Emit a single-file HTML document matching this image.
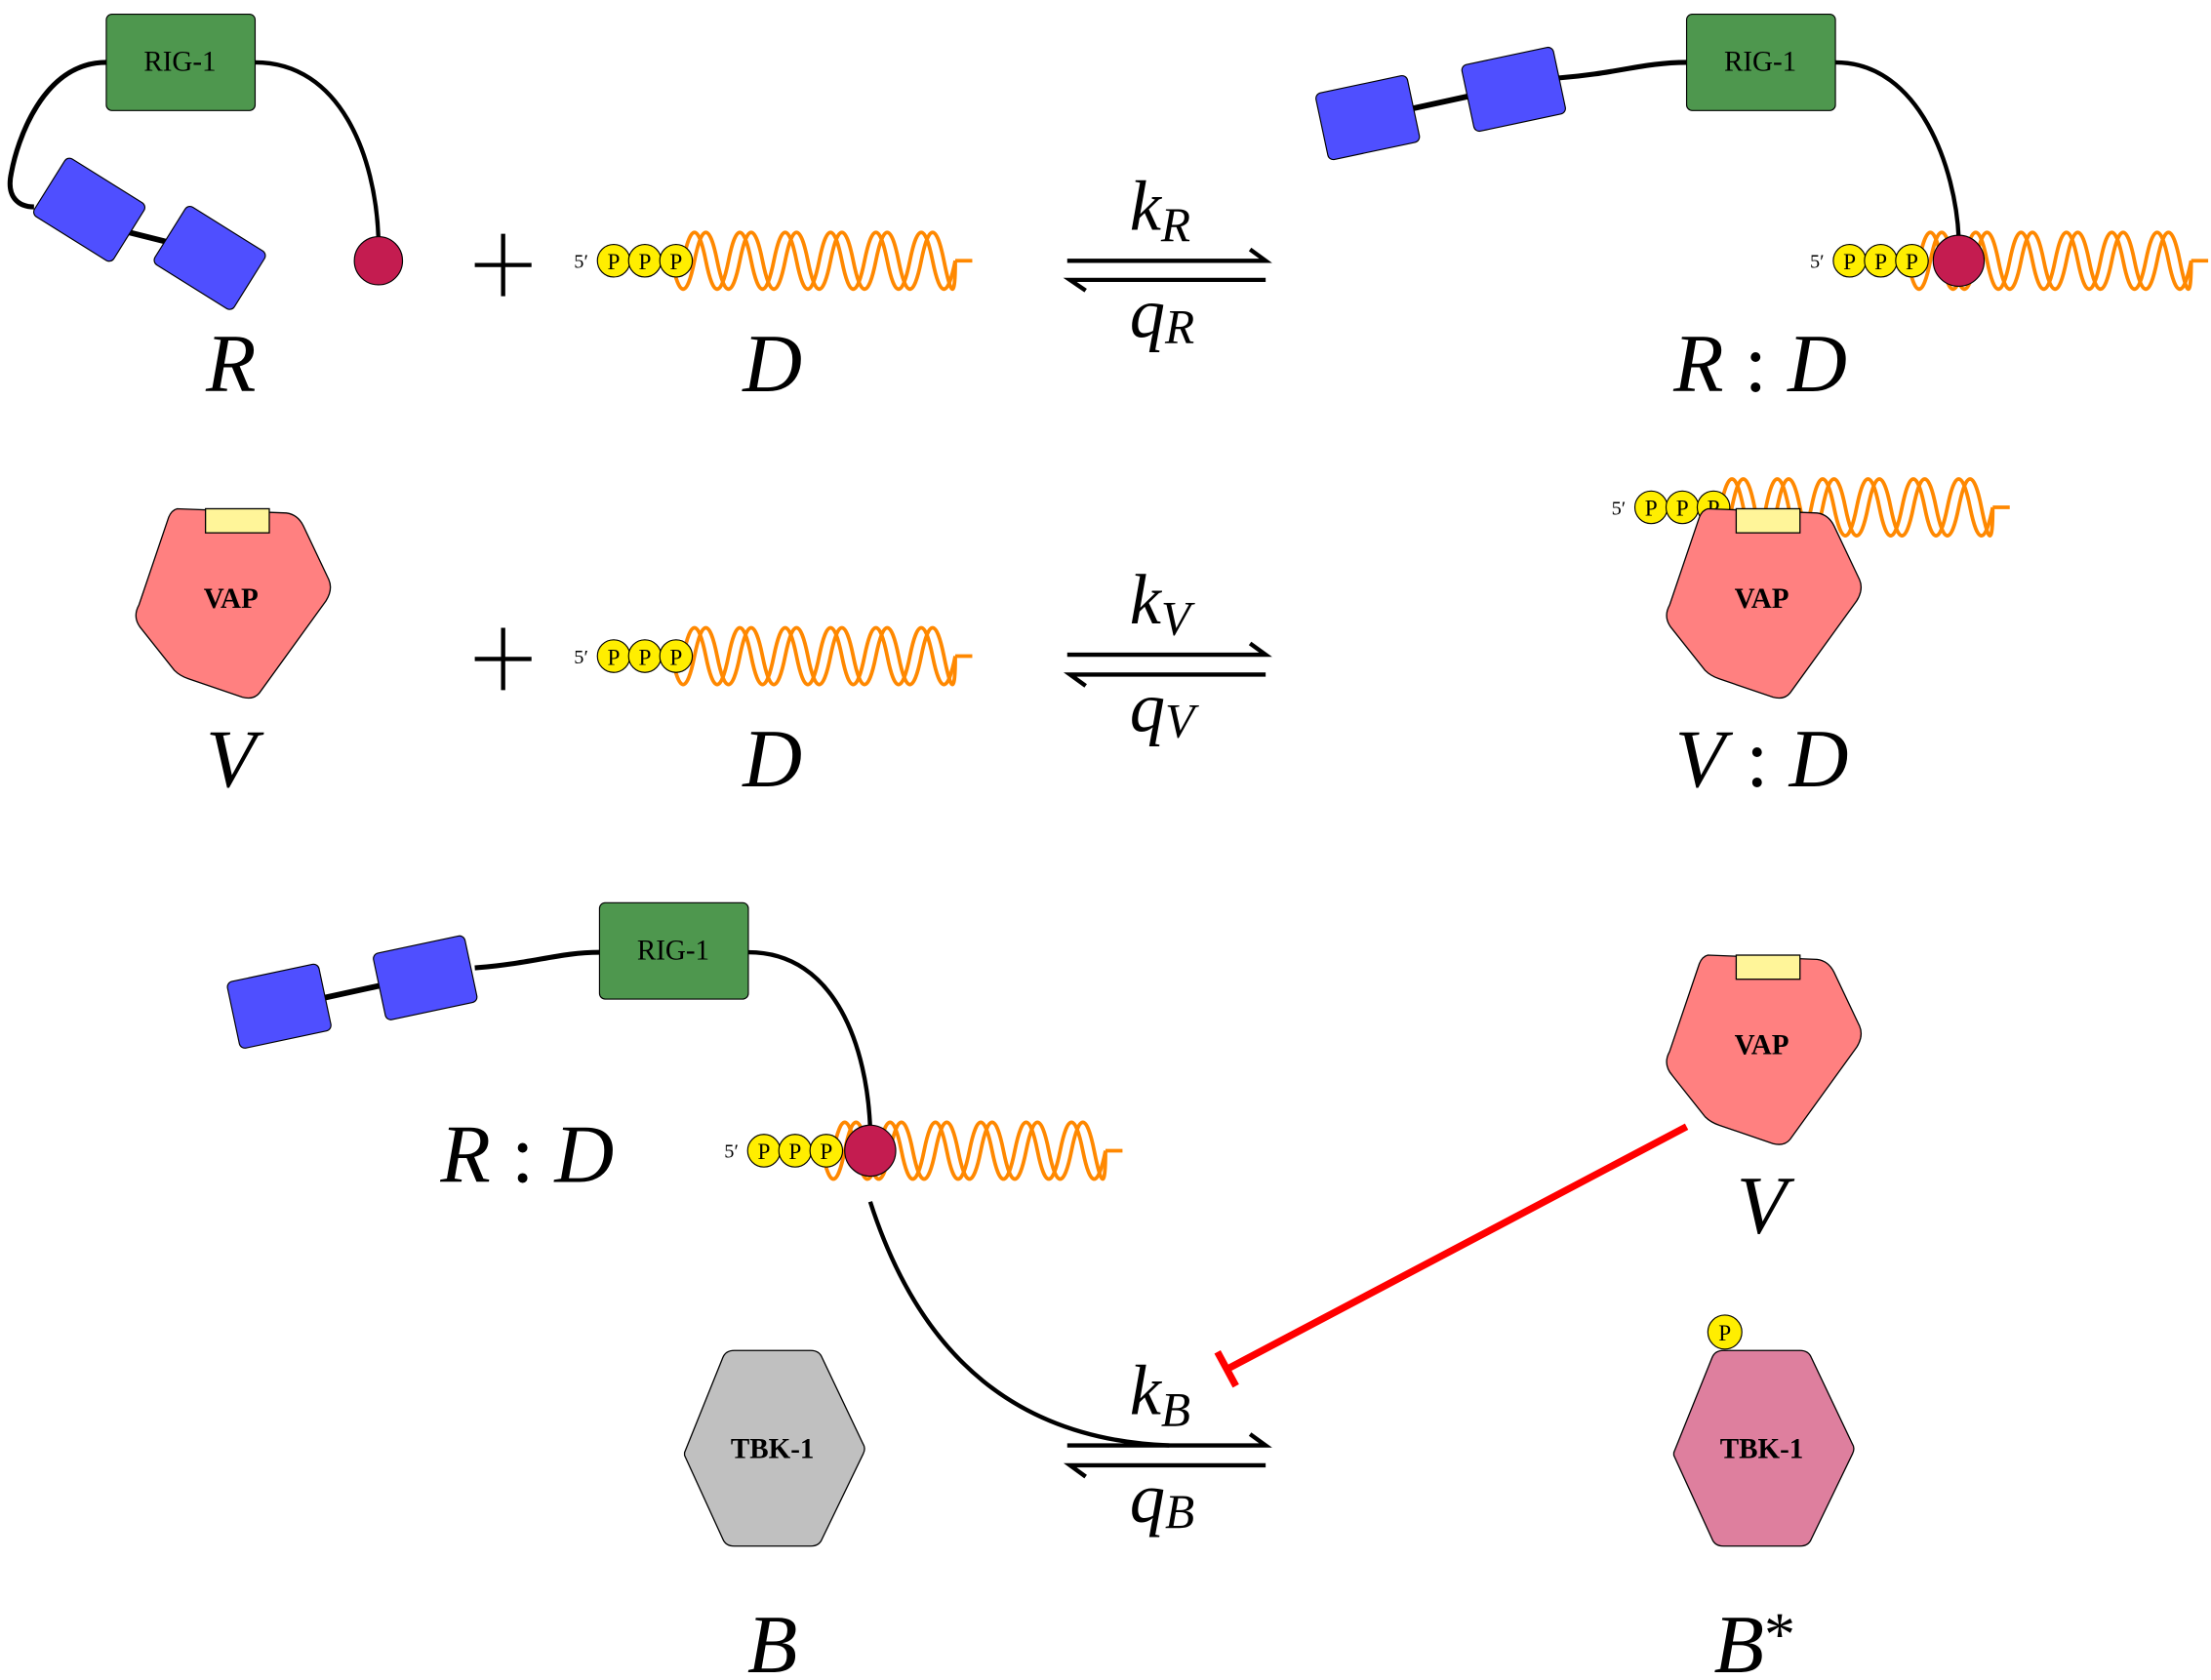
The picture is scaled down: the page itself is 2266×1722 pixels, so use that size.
<!DOCTYPE html>
<html><head><meta charset="utf-8"><style>
html,body{margin:0;padding:0;background:#fff;}
svg{display:block;}
text{font-family:"Liberation Serif",serif;}
</style></head><body>
<svg width="2266" height="1722" viewBox="0 0 1560 1185.5" preserveAspectRatio="none" xmlns="http://www.w3.org/2000/svg">
<defs>
<g id="dna">
  <path d="M49,0 q8,-40 16,0 t16,0 t16,0 t16,0 t16,0 t16,0 t16,0 t16,0 t16,0 t16,0 t16,0 t16,0" fill="none" stroke="#ff8800" stroke-width="2.6"/>
  <path d="M41,0 q8,40 16,0 t16,0 t16,0 t16,0 t16,0 t16,0 t16,0 t16,0 t16,0 t16,0 t16,0 t16,0 t8,0" fill="none" stroke="#ff8800" stroke-width="2.6"/>
  <line x1="241" y1="0" x2="253" y2="0" stroke="#ff8800" stroke-width="2.6"/>
  <text x="-28" y="5" font-size="14">5′</text>
  <circle cx="0" cy="0" r="11.5" fill="#ffee00" stroke="#000" stroke-width="0.8"/>
  <circle cx="22" cy="0" r="11.5" fill="#ffee00" stroke="#000" stroke-width="0.8"/>
  <circle cx="44" cy="0" r="11.5" fill="#ffee00" stroke="#000" stroke-width="0.8"/>
  <text x="0" y="6" font-size="16" text-anchor="middle">P</text>
  <text x="22" y="6" font-size="16" text-anchor="middle">P</text>
  <text x="44" y="6" font-size="16" text-anchor="middle">P</text>
</g>
<g id="vap">
  <path d="M-38,-60 L39,-57 Q47,-56 51,-48 L69,-10 Q72,-3 67,5 L20,70 Q16,75 8,73 L-30,60 Q-36,58 -40,54 L-63,25 Q-70,17 -65,8 L-44,-54 Q-42,-59 -38,-60 Z" fill="#ff8080" stroke="#000" stroke-width="0.9"/>
  <rect x="-18" y="-60" width="45" height="17" fill="#fff599" stroke="#000" stroke-width="0.9"/>
  <text x="0" y="10" font-size="20" font-weight="bold" text-anchor="middle">VAP</text>
</g>
<g id="blue">
  <rect x="-33" y="-24" width="66" height="48" rx="4" fill="#4f4fff" stroke="#000" stroke-width="0.8"/>
</g>
<g id="rig">
  <rect x="0" y="0" width="105" height="68" rx="4" fill="#4e974e" stroke="#000" stroke-width="0.8"/>
  <text x="52" y="40" font-size="20" text-anchor="middle">RIG-1</text>
</g>
<g id="hex">
  <path d="M-62,3 L-35,-64 Q-33,-69 -27,-69 L27,-69 Q33,-69 35,-64 L64,-3 Q66,0 64,4 L35,64 Q33,69 27,69 L-27,69 Q-33,69 -35,64 L-62,5 Z" stroke="#000" stroke-width="0.9"/>
</g>
</defs>

<path d="M75,44 C30,44 12,100 8,122 C4,140 14,146 24,146" fill="none" stroke="#000" stroke-width="3.5"/>
<line x1="75" y1="160" x2="135" y2="175" stroke="#000" stroke-width="4"/>
<use href="#blue" transform="translate(63,148) rotate(32)"/>
<use href="#blue" transform="translate(148,182) rotate(32)"/>
<path d="M180,44 C240,44 265,110 267,168" fill="none" stroke="#000" stroke-width="3"/>
<use href="#rig" x="75" y="10"/>
<ellipse cx="267" cy="184" rx="17" ry="17" fill="#c41c50" stroke="#000" stroke-width="0.8"/>
<path d="M335,187 H375 M355,165 V209" stroke="#000" stroke-width="3"/>
<use href="#dna" x="433" y="184"/>
<text x="163" y="276" font-size="58" font-style="italic" text-anchor="middle">R</text>
<text x="545" y="276" font-size="58" font-style="italic" text-anchor="middle">D</text>

<g stroke="#000" stroke-width="3" fill="none">
<path d="M753,184 H893 L882,176"/>
<path d="M893,197.5 H755 L766,205"/>
<path d="M753,462 H893 L882,454"/>
<path d="M893,476 H755 L766,484"/>
<path d="M753,1020 H893 L882,1012"/>
<path d="M893,1034 H755 L766,1042"/>
</g>
<text x="797" y="162" font-size="50" font-style="italic">k<tspan font-size="34" dy="8">R</tspan></text>
<text x="797" y="238" font-size="50" font-style="italic">q<tspan font-size="34" dy="4">R</tspan></text>
<text x="797" y="440" font-size="50" font-style="italic">k<tspan font-size="34" dy="8">V</tspan></text>
<text x="797" y="516" font-size="50" font-style="italic">q<tspan font-size="34" dy="4">V</tspan></text>
<text x="797" y="998" font-size="50" font-style="italic">k<tspan font-size="34" dy="8">B</tspan></text>
<text x="797" y="1074" font-size="50" font-style="italic">q<tspan font-size="34" dy="4">B</tspan></text>

<path d="M990,78 L1045,66" stroke="#000" stroke-width="4"/>
<path d="M1100,55 C1140,52 1160,44 1190,44" fill="none" stroke="#000" stroke-width="3.5"/>
<use href="#blue" transform="translate(965,83) rotate(-12)"/>
<use href="#blue" transform="translate(1068,63) rotate(-12)"/>
<use href="#rig" x="1190" y="10"/>
<path d="M1295,44 C1355,44 1380,120 1382,168" fill="none" stroke="#000" stroke-width="3"/>
<use href="#dna" x="1305" y="184"/>
<ellipse cx="1382" cy="184" rx="18" ry="18" fill="#c41c50" stroke="#000" stroke-width="0.8"/>
<text x="1242" y="276" font-size="58" font-style="italic" text-anchor="middle">R<tspan font-style="normal"> : </tspan>D</text>

<use href="#vap" x="163" y="419"/>
<path d="M335,465 H375 M355,443 V487" stroke="#000" stroke-width="3"/>
<use href="#dna" x="433" y="463"/>
<text x="163" y="555" font-size="58" font-style="italic" text-anchor="middle">V</text>
<text x="545" y="555" font-size="58" font-style="italic" text-anchor="middle">D</text>
<use href="#dna" x="1165" y="358"/>
<use href="#vap" x="1243" y="419"/>
<text x="1243" y="555" font-size="58" font-style="italic" text-anchor="middle">V<tspan font-style="normal"> : </tspan>D</text>

<path d="M220,706 L275,694" stroke="#000" stroke-width="4"/>
<path d="M335,683 C375,680 395,672 423,672" fill="none" stroke="#000" stroke-width="3.5"/>
<use href="#blue" transform="translate(197,710) rotate(-12)"/>
<use href="#blue" transform="translate(300,690) rotate(-12)"/>
<use href="#rig" x="423" y="637"/>
<path d="M528,672 C590,672 612,740 614,797" fill="none" stroke="#000" stroke-width="3"/>
<use href="#dna" x="539" y="812"/>
<ellipse cx="614" cy="812" rx="18" ry="18" fill="#c41c50" stroke="#000" stroke-width="0.8"/>
<text x="372" y="834" font-size="58" font-style="italic" text-anchor="middle">R<tspan font-style="normal"> : </tspan>D</text>
<path d="M614,848 C650,960 720,1016 825,1020" fill="none" stroke="#000" stroke-width="3"/>

<use href="#hex" x="545" y="1022" fill="#c0c0c0"/>
<text x="545" y="1029" font-size="20" font-weight="bold" text-anchor="middle">TBK-1</text>
<text x="545" y="1180" font-size="58" font-style="italic" text-anchor="middle">B</text>

<use href="#vap" x="1243" y="734"/>
<text x="1243" y="870" font-size="58" font-style="italic" text-anchor="middle">V</text>
<path d="M1190,795 L866,966 M859,954 L872,978" stroke="#ff0000" stroke-width="5" fill="none"/>

<use href="#hex" x="1243" y="1022" fill="#de7f9e"/>
<text x="1243" y="1029" font-size="20" font-weight="bold" text-anchor="middle">TBK-1</text>
<circle cx="1217" cy="940" r="12" fill="#ffee00" stroke="#000" stroke-width="0.8"/>
<text x="1217" y="946" font-size="16" text-anchor="middle">P</text>
<text x="1238" y="1180" font-size="58" font-style="italic" text-anchor="middle">B<tspan font-style="normal" font-size="44" dy="-12">*</tspan></text>
</svg>
</body></html>
